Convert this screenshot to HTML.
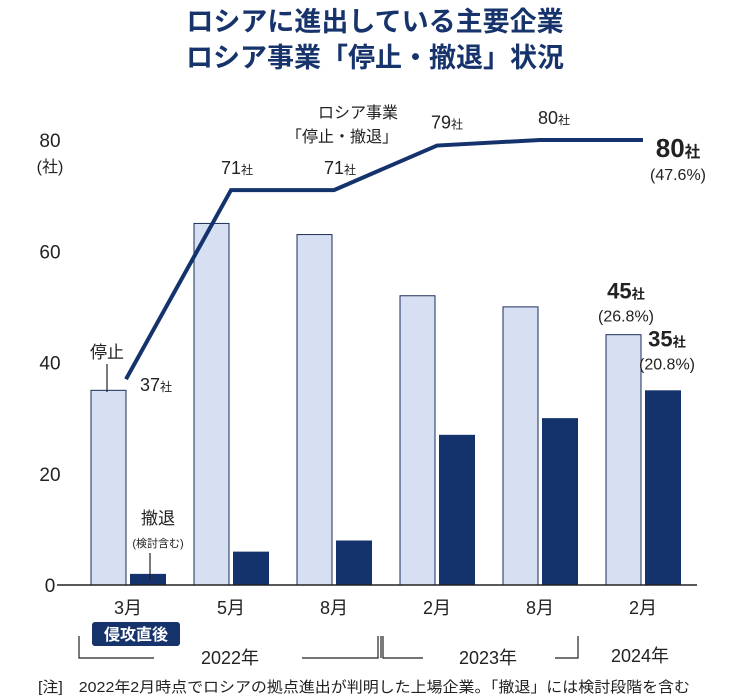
<!DOCTYPE html>
<html><head><meta charset="utf-8"><style>
body{margin:0;background:#fff;}
svg{display:block;font-family:"Liberation Sans","Noto Sans CJK JP",sans-serif;}
</style></head><body>
<svg id="c" width="750" height="700" viewBox="0 0 750 700">
<text x="375" y="31" text-anchor="middle" font-size="27" font-weight="bold" fill="#17336b">ロシアに進出している主要企業</text>
<text x="375" y="67" text-anchor="middle" font-size="27" font-weight="bold" fill="#17336b">ロシア事業「停止・撤退」状況</text>
<g id="bars"></g>
<line x1="57" y1="585" x2="697" y2="585" stroke="#222" stroke-width="1.5"/>
<g id="ticks" font-size="19" fill="#222"></g>
<text x="50" y="172" text-anchor="middle" font-size="16" fill="#222">(社)</text>
<g id="labels" fill="#222"></g>
<text x="358" y="118" text-anchor="middle" font-size="16" fill="#222">ロシア事業</text>
<text x="342" y="142" text-anchor="middle" font-size="16" fill="#222">「停止・撤退」</text>
<text x="107" y="358" text-anchor="middle" font-size="17" fill="#222">停止</text>
<line x1="107" y1="364" x2="107" y2="392" stroke="#222" stroke-width="1.2"/>
<text x="158" y="524" text-anchor="middle" font-size="17" fill="#222">撤退</text>
<text x="158" y="547" text-anchor="middle" font-size="11" fill="#222">(検討含む)</text>
<line x1="150" y1="553" x2="150" y2="580" stroke="#222" stroke-width="1.2"/>
<rect x="92" y="622" width="88" height="24" rx="3" fill="#16336c"/>
<text x="136" y="640" text-anchor="middle" font-size="16" font-weight="bold" fill="#fff">侵攻直後</text>
<g stroke="#222" stroke-width="1.2" fill="none">
<polyline points="79,636 79,658 154,658"/>
<polyline points="302,658 378,658 378,636"/>
<line x1="381" y1="636" x2="381" y2="658"/>
<polyline points="383,636 383,658 423,658"/>
<polyline points="555,658 578,658 578,636"/>
</g>
<text x="230" y="664" text-anchor="middle" font-size="18" fill="#222">2022年</text>
<text x="488" y="664" text-anchor="middle" font-size="18" fill="#222">2023年</text>
<text x="640" y="662" text-anchor="middle" font-size="18" fill="#222">2024年</text>
<text x="38" y="692" font-size="15" fill="#222" textLength="652" lengthAdjust="spacingAndGlyphs">[注]　2022年2月時点でロシアの拠点進出が判明した上場企業。「撤退」には検討段階を含む</text>
</svg>
<script>
const categories=["3月","5月","8月","2月","8月","2月"];
const stopped=[35,65,63,52,50,45];
const withdrawn=[2,6,8,27,30,35];
const totals=[37,71,71,79,80,80];
const yTicks=[0,20,40,60,80];
const NS="http://www.w3.org/2000/svg";
function y(v){return 585-v*5.5625;}
function cx(i){return 128+i*103;}
function mk(tag,attrs,parent){const e=document.createElementNS(NS,tag);for(const k in attrs)e.setAttribute(k,attrs[k]);parent.appendChild(e);return e;}
const bars=document.getElementById('bars'),ticks=document.getElementById('ticks'),labels=document.getElementById('labels'),svg=document.getElementById('c');
yTicks.forEach(t=>{const e=mk('text',{x:50,y:y(t)+7,'text-anchor':'middle'},ticks);e.textContent=t;

});
categories.forEach((c,i)=>{
 const b1=mk('rect',{x:cx(i)-37,y:y(stopped[i]),width:35,height:stopped[i]*5.5625,fill:'#d7e0f2',stroke:'#1a2d5a','stroke-width':1},bars);
 
 
 const b2=mk('rect',{x:cx(i)+2,y:y(withdrawn[i]),width:36,height:withdrawn[i]*5.5625,fill:'#14336d'},bars);
 
 
 const t=mk('text',{x:cx(i),y:614,'text-anchor':'middle','font-size':18},labels);t.textContent=c;
 
 
});
const pts=totals.map((v,i)=>(cx(i)-(i==0?2:0))+','+y(v)).join(' ');
const pl=mk('polyline',{points:pts,fill:'none',stroke:'#14336d','stroke-width':4,'stroke-linejoin':'miter'},svg);


const offs=[[12,12],[-10,-16],[-10,-16],[-6,-17],[-2,-16]];
totals.forEach((v,i)=>{if(i==5)return;
 const t=mk('text',{x:cx(i)+offs[i][0],y:y(v)+offs[i][1],'text-anchor':'start','font-size':18},labels);
 t.innerHTML=v+'<tspan font-size="12">社</tspan>';
 
 });
function big(x,yy,v,pct,sz,name){
 const t=mk('text',{x:x,y:yy,'text-anchor':'middle','font-size':sz,'font-weight':'bold'},labels);
 t.innerHTML=v+'<tspan font-size="'+(sz*0.6)+'">社</tspan>';
 
 
 const p=mk('text',{x:x,y:yy+23,'text-anchor':'middle','font-size':16},labels);p.textContent='('+pct+'%)';
 
 
}
big(678,y(totals[5])+17,totals[5],'47.6',26,'latest-total-label');
big(626,y(stopped[5])-36,stopped[5],'26.8',22,'latest-stopped-label');
big(667,y(withdrawn[5])-44,withdrawn[5],'20.8',22,'latest-withdrawn-label');
</script>
</body></html>
